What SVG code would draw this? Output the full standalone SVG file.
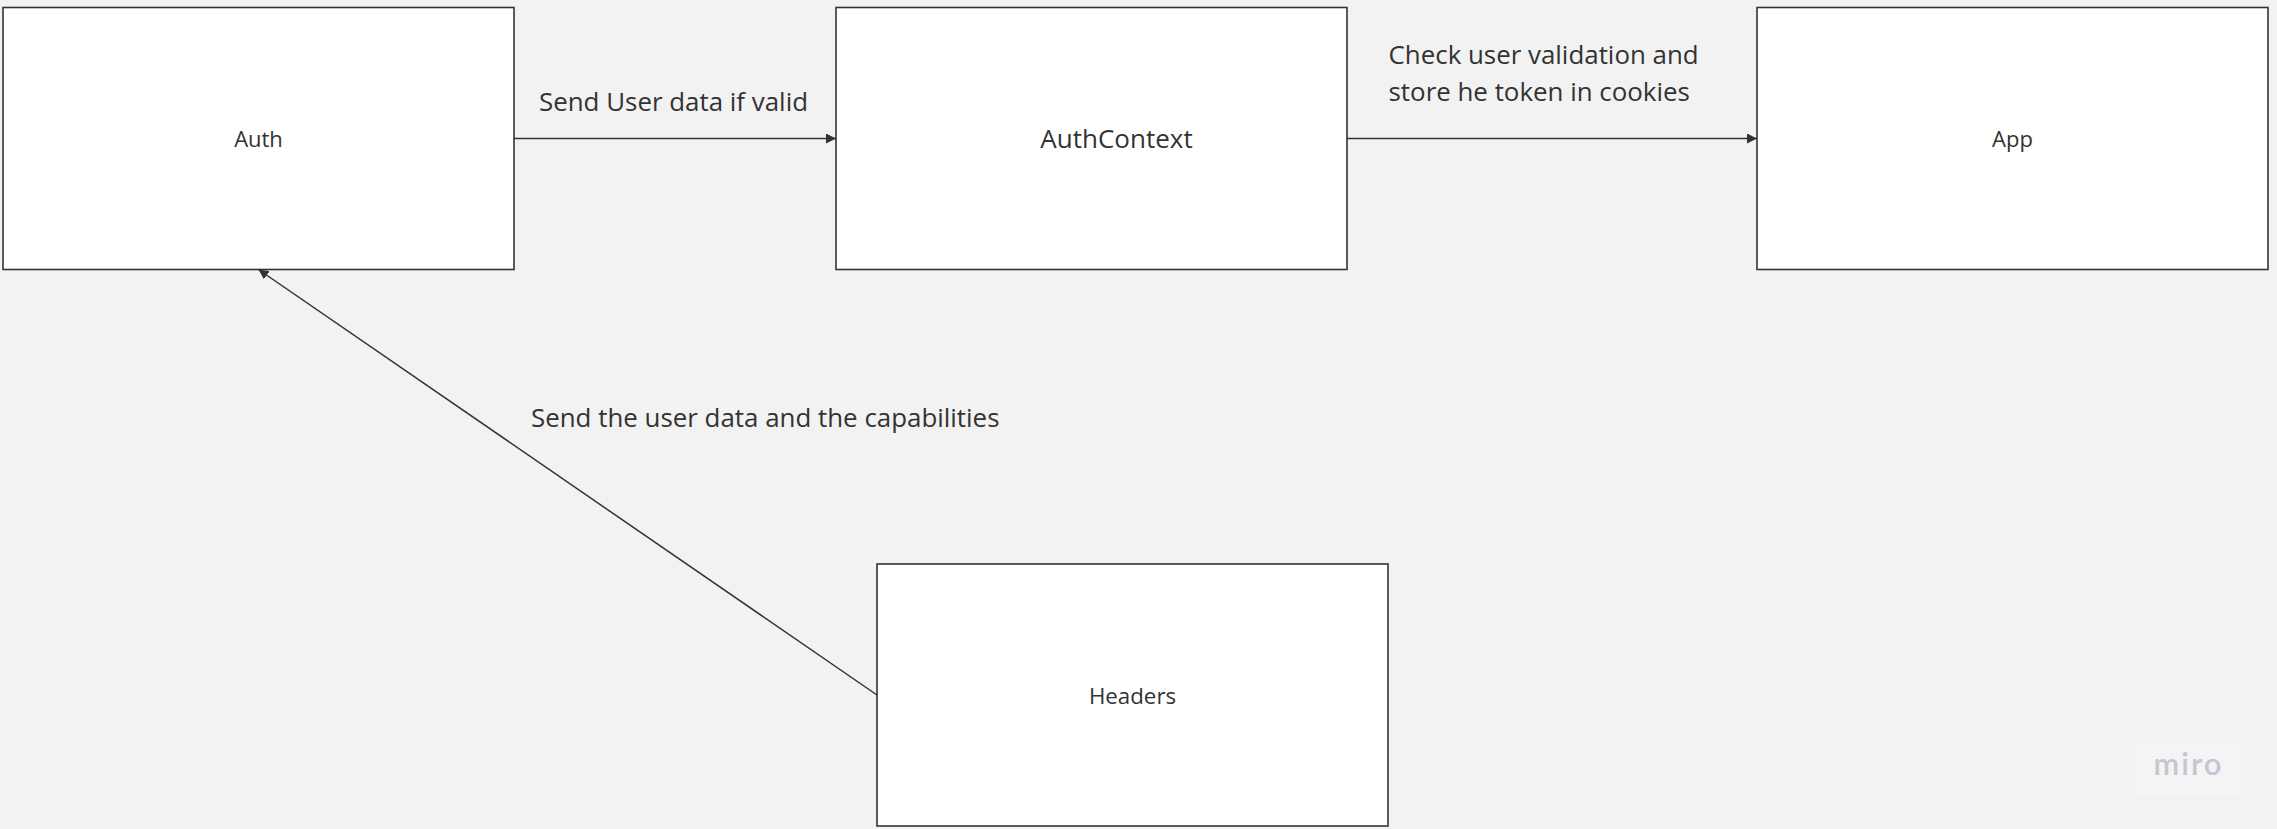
<svg xmlns="http://www.w3.org/2000/svg" width="2277" height="829" viewBox="0 0 2277 829">
  <defs>
    <marker id="arrow" viewBox="0 0 10 10" refX="10" refY="5" markerWidth="10" markerHeight="10" markerUnits="userSpaceOnUse" orient="auto">
      <path d="M0,0 L10,5 L0,10 Z" fill="#333333"/>
    </marker>
  </defs>
  <style>
    .box { fill: #ffffff; stroke: #333333; stroke-width: 1.6; }
    .lbl { font-family: "Open Sans", "Noto Sans", sans-serif; fill: #333333; }
    .edge { fill: none; stroke: #333333; stroke-width: 1.5; marker-end: url(#arrow); }
    .elbl { font-family: "Open Sans", "Noto Sans", sans-serif; fill: #333333; font-size: 25.9px; }
  </style>
  <rect x="0" y="0" width="2277" height="829" fill="#f2f2f2"/>

  <g id="auth">
    <rect class="box" x="3" y="7.5" width="511" height="262"/>
    <text class="lbl" x="258.5" y="146.5" font-size="22" text-anchor="middle">Auth</text>
  </g>
  <g id="authcontext">
    <rect class="box" x="836" y="7.5" width="511" height="262"/>
    <text class="lbl" x="1116.5" y="148.3" font-size="26" text-anchor="middle">AuthContext</text>
  </g>
  <g id="app">
    <rect class="box" x="1757" y="7.5" width="511" height="262"/>
    <text class="lbl" x="2012.5" y="146.5" font-size="22" text-anchor="middle">App</text>
  </g>
  <g id="headers">
    <rect class="box" x="877" y="564" width="511" height="262"/>
    <text class="lbl" x="1132.5" y="704.3" font-size="22.3" text-anchor="middle">Headers</text>
  </g>

  <g id="connectors">
    <line class="edge" x1="514" y1="138.5" x2="836" y2="138.5"/>
    <text class="elbl" x="539" y="110.7">Send User data if valid</text>
    <line class="edge" x1="1347" y1="138.5" x2="1757" y2="138.5"/>
    <text class="elbl" x="1388.5" y="64.3">Check user validation and</text>
    <text class="elbl" x="1388.5" y="101">store he token in cookies</text>
    <line class="edge" x1="877" y1="695" x2="258.5" y2="269.5"/>
    <text class="elbl" x="531" y="426.7">Send the user data and the capabilities</text>
  </g>

  <g id="watermark">
    <rect x="2135" y="737" width="107" height="58" rx="4" fill="#f4f4f4"/>
    <text x="2188.5" y="775" font-family="Lato, 'Open Sans', sans-serif" font-weight="600" font-size="31" fill="#c5c5d3" text-anchor="middle" letter-spacing="2">miro</text>
  </g>
</svg>
